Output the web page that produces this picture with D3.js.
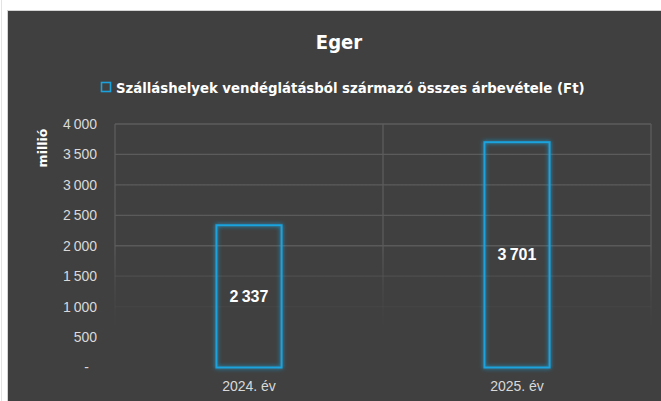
<!DOCTYPE html>
<html>
<head>
<meta charset="utf-8">
<script src="https://cdn.jsdelivr.net/npm/d3@7"></script>
<style>
  html, body { margin: 0; padding: 0; background: #ffffff; }
  #chart { width: 661px; height: 401px; }
</style>
</head>
<body>
<div id="chart"></div>
<script>
// adatok
const categories = ['2024. év', '2025. év'];
const values = [2337, 3701];
const yTicks = [0, 500, 1000, 1500, 2000, 2500, 3000, 3500, 4000];
const chartTitle = 'Eger';
const seriesName = 'Szálláshelyek vendéglátásból származó összes árbevétele (Ft)';
const yLabel = 'millió';

function drawChart() {
    const width = 661;
    const height = 401;
    const plot = { left: 115, right: 651, top: 124, bottom: 367.5 };
    const barColor = '#1ba2dc';
    const condensed = '"DejaVu Sans Condensed", "DejaVu Sans", sans-serif';
    const numFont = '"Liberation Sans", Arial, sans-serif';

    // ezres tagolás keskeny szóközzel
    const fmt = v => v === 0 ? '-' : d3.format(',')(v).replace(/,/g, '\u2009');

    const svg = d3.select('#chart').append('svg')
        .attr('width', width)
        .attr('height', height)
        .style('display', 'block');

    const defs = svg.append('defs');

    // rácsvonalak lefelé elhalványulnak
    const grad = defs.append('linearGradient')
        .attr('id', 'gridFade')
        .attr('gradientUnits', 'userSpaceOnUse')
        .attr('x1', 0).attr('x2', 0)
        .attr('y1', plot.top).attr('y2', plot.bottom);
    grad.append('stop').attr('offset', 0).attr('stop-color', '#5c5c5c').attr('stop-opacity', 1);
    grad.append('stop').attr('offset', 0.5).attr('stop-color', '#5a5a5a').attr('stop-opacity', 1);
    grad.append('stop').attr('offset', 0.85).attr('stop-color', '#4a4a4a').attr('stop-opacity', 0);

    // ragyogás az oszlopok körül
    const glow = defs.append('filter')
        .attr('id', 'glow')
        .attr('x', '-30%').attr('y', '-30%')
        .attr('width', '160%').attr('height', '160%');
    glow.append('feGaussianBlur')
        .attr('in', 'SourceGraphic')
        .attr('stdDeviation', 2.2)
        .attr('result', 'blur');
    const merge = glow.append('feMerge');
    merge.append('feMergeNode').attr('in', 'blur');
    merge.append('feMergeNode').attr('in', 'SourceGraphic');

    // háttér
    svg.append('rect')
        .attr('x', 0).attr('y', 0)
        .attr('width', width).attr('height', height)
        .attr('fill', '#ffffff');
    svg.append('line')
        .attr('x1', 1.5).attr('x2', 1.5)
        .attr('y1', 0).attr('y2', height)
        .attr('stroke', '#e3e3e3');
    svg.append('rect')
        .attr('x', 7.5).attr('y', 10.5)
        .attr('width', width).attr('height', height)
        .attr('fill', '#404040')
        .attr('stroke', '#d4d4d4')
        .attr('stroke-width', 1);

    // skálák
    const x = d3.scaleBand()
        .domain(categories)
        .range([plot.left, plot.right])
        .paddingInner(0.757)
        .paddingOuter(0.3785);

    const y = d3.scaleLinear()
        .domain([0, 4000])
        .range([plot.bottom, plot.top]);

    // vízszintes rács
    svg.append('g')
        .selectAll('line')
        .data(yTicks.filter(d => d > 0))
        .join('line')
        .attr('x1', plot.left)
        .attr('x2', plot.right)
        .attr('y1', d => y(d))
        .attr('y2', d => y(d))
        .attr('stroke', 'url(#gridFade)')
        .attr('stroke-width', 1.3);

    // függőleges rács a kategóriák határán
    const step = x.step();
    const vLines = [plot.left, plot.left + step, plot.right];
    svg.append('g')
        .selectAll('rect')
        .data(vLines)
        .join('rect')
        .attr('x', d => d - 0.65)
        .attr('y', plot.top)
        .attr('width', 1.3)
        .attr('height', plot.bottom - plot.top)
        .attr('fill', 'url(#gridFade)');

    // y tengely feliratai
    const yAxis = svg.append('g')
        .attr('transform', `translate(${plot.left - 18},0)`)
        .call(d3.axisLeft(y).tickValues(yTicks).tickSize(0).tickFormat(fmt));
    yAxis.select('.domain').remove();
    yAxis.selectAll('text')
        .attr('x', d => d === 0 ? -8 : 0)
        .attr('fill', '#d9d9d9')
        .style('font-family', numFont)
        .style('font-size', '14px');

    // x tengely feliratai
    const xAxis = svg.append('g')
        .attr('transform', `translate(0,${plot.bottom})`)
        .call(d3.axisBottom(x).tickSize(0));
    xAxis.select('.domain').remove();
    xAxis.selectAll('text')
        .attr('y', 14)
        .attr('fill', '#d9d9d9')
        .style('font-family', numFont)
        .style('font-size', '14px');

    // oszlopok (csak körvonal)
    svg.append('g')
        .selectAll('rect')
        .data(values)
        .join('rect')
        .attr('x', (d, i) => x(categories[i]))
        .attr('y', d => y(d))
        .attr('width', x.bandwidth())
        .attr('height', d => y(0) - y(d))
        .attr('fill', 'none')
        .attr('stroke', barColor)
        .attr('stroke-width', 2)
        .attr('filter', 'url(#glow)');

    // adatfeliratok
    svg.append('g')
        .selectAll('text')
        .data(values)
        .join('text')
        .attr('x', (d, i) => x(categories[i]) + x.bandwidth() / 2)
        .attr('y', d => (y(d) + y(0)) / 2)
        .attr('text-anchor', 'middle')
        .attr('dominant-baseline', 'central')
        .attr('fill', '#ffffff')
        .style('font-family', numFont)
        .style('font-weight', 'bold')
        .style('font-size', '16px')
        .text(d => fmt(d));

    // cím
    svg.append('text')
        .attr('x', 339)
        .attr('y', 49)
        .attr('text-anchor', 'middle')
        .attr('fill', '#ffffff')
        .style('font-family', condensed)
        .style('font-weight', 'bold')
        .style('font-size', '20px')
        .text(chartTitle);

    // jelmagyarázat
    const legend = svg.append('g');
    legend.append('rect')
        .attr('x', 101.5)
        .attr('y', 82.5)
        .attr('width', 9)
        .attr('height', 9)
        .attr('fill', 'none')
        .attr('stroke', barColor)
        .attr('stroke-width', 1.6);
    const legendText = legend.append('text')
        .attr('x', 116)
        .attr('y', 92.5)
        .attr('fill', '#ffffff')
        .style('font-family', condensed)
        .style('font-weight', 'bold')
        .style('font-size', '14px')
        .text(seriesName);
    // a szöveget a minta szélességéhez igazítjuk
    const targetW = 469;
    const w = legendText.node().getComputedTextLength();
    if (w > 0) legendText.style('font-size', (14 * targetW / w).toFixed(2) + 'px');

    // y tengely címe
    svg.append('text')
        .attr('transform', 'translate(47,148) rotate(-90)')
        .attr('text-anchor', 'middle')
        .attr('fill', '#ffffff')
        .style('font-family', '"DejaVu Sans", sans-serif')
        .style('font-weight', 'bold')
        .style('font-size', '12.5px')
        .text(yLabel);
}

drawChart();
</script>
</body>
</html>
